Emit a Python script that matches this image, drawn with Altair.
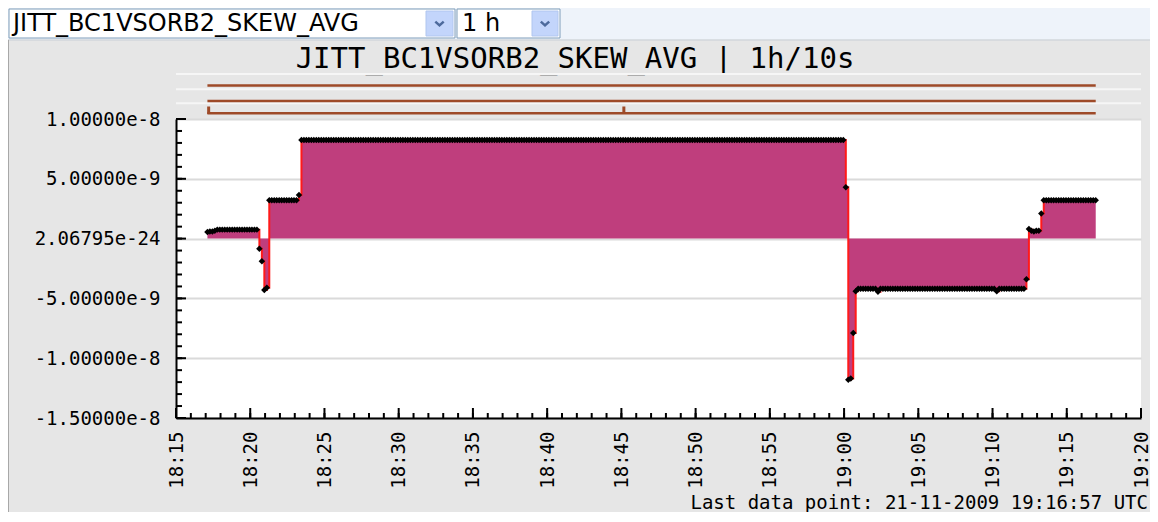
import altair as alt
import pandas as pd

# ---------------- data (units of 1e-9) ----------------
# one sample every 10 s, first 18:17:07 UTC, last 19:16:57 UTC
first_sample = "2009-11-21 18:17:07"
vals_start = [0.55, 0.60, 0.60, 0.65,
              0.75, 0.75, 0.75, 0.75, 0.75, 0.75, 0.75, 0.75, 0.75, 0.75,
              0.75, 0.75, 0.75, 0.75, 0.75, 0.75, 0.75]
vals_dip = [-0.85, -1.90, -4.30, -4.10,
            3.20, 3.20, 3.20, 3.20, 3.20, 3.20, 3.20, 3.20, 3.20, 3.20, 3.20, 3.20,
            3.65]
vals_high = [
    8.25, 8.25, 8.25, 8.25, 8.25, 8.25, 8.25, 8.25, 8.25, 8.25, 8.25, 8.25, 8.25, 8.25, 8.25, 8.25, 8.25, 8.25, 8.25, 8.25,
    8.25, 8.25, 8.25, 8.25, 8.25, 8.25, 8.25, 8.25, 8.25, 8.25, 8.25, 8.25, 8.25, 8.25, 8.25, 8.25, 8.25, 8.25, 8.25, 8.25,
    8.25, 8.25, 8.25, 8.25, 8.25, 8.25, 8.25, 8.25, 8.25, 8.25, 8.25, 8.25, 8.25, 8.25, 8.25, 8.25, 8.25, 8.25, 8.25, 8.25,
    8.25, 8.25, 8.25, 8.25, 8.25, 8.25, 8.25, 8.25, 8.25, 8.25, 8.25, 8.25, 8.25, 8.25, 8.25, 8.25, 8.25, 8.25, 8.25, 8.25,
    8.25, 8.25, 8.25, 8.25, 8.25, 8.25, 8.25, 8.25, 8.25, 8.25, 8.25, 8.25, 8.25, 8.25, 8.25, 8.25, 8.25, 8.25, 8.25, 8.25,
    8.25, 8.25, 8.25, 8.25, 8.25, 8.25, 8.25, 8.25, 8.25, 8.25, 8.25, 8.25, 8.25, 8.25, 8.25, 8.25, 8.25, 8.25, 8.25, 8.25,
    8.25, 8.25, 8.25, 8.25, 8.25, 8.25, 8.25, 8.25, 8.25, 8.25, 8.25, 8.25, 8.25, 8.25, 8.25, 8.25, 8.25, 8.25, 8.25, 8.25,
    8.25, 8.25, 8.25, 8.25, 8.25, 8.25, 8.25, 8.25, 8.25, 8.25, 8.25, 8.25, 8.25, 8.25, 8.25, 8.25, 8.25, 8.25, 8.25, 8.25,
    8.25, 8.25, 8.25, 8.25, 8.25, 8.25, 8.25, 8.25, 8.25, 8.25, 8.25, 8.25, 8.25, 8.25, 8.25, 8.25, 8.25, 8.25, 8.25, 8.25,
    8.25, 8.25, 8.25, 8.25, 8.25, 8.25, 8.25, 8.25, 8.25, 8.25, 8.25, 8.25, 8.25, 8.25, 8.25, 8.25, 8.25, 8.25, 8.25, 8.25,
    8.25, 8.25, 8.25, 8.25, 8.25, 8.25, 8.25, 8.25, 8.25, 8.25, 8.25, 8.25, 8.25, 8.25, 8.25, 8.25, 8.25, 8.25, 8.25, 8.25,
]
vals_crash = [4.30, -11.80, -11.70, -7.90, -4.40]
vals_low = [
    -4.20, -4.20, -4.20, -4.20, -4.20, -4.20, -4.20, -4.20, -4.45, -4.20, -4.20, -4.20, -4.20, -4.20, -4.20, -4.20, -4.20, -4.20, -4.20, -4.20,
    -4.20, -4.20, -4.20, -4.20, -4.20, -4.20, -4.20, -4.20, -4.20, -4.20, -4.20, -4.20, -4.20, -4.20, -4.20, -4.20, -4.20, -4.20, -4.20, -4.20,
    -4.20, -4.20, -4.20, -4.20, -4.20, -4.20, -4.20, -4.20, -4.20, -4.20, -4.20, -4.20, -4.20, -4.20, -4.20, -4.20, -4.40, -4.20, -4.20, -4.20,
    -4.20, -4.20, -4.20, -4.20, -4.20, -4.20, -4.20, -4.20,
]
vals_end = [-3.40, 0.80, 0.65, 0.60, 0.65, 0.65, 2.10,
            3.20, 3.20, 3.20, 3.20, 3.20, 3.20, 3.20, 3.20, 3.20, 3.20, 3.20,
            3.20, 3.20, 3.20, 3.20, 3.20, 3.20, 3.20, 3.20, 3.20, 3.20, 3.20]

values_e9 = vals_start + vals_dip + vals_high + vals_crash + vals_low + vals_end
assert len(values_e9) == 360, len(values_e9)

# status strip (three lanes above the plot) and its event marks
status_start = "2009-11-21 18:17:07"
status_end = "2009-11-21 19:16:57"
status_events = ["2009-11-21 18:17:12", "2009-11-21 18:45:10"]

# axes
x_domain = ["2009-11-21 18:15:00", "2009-11-21 19:20:00"]
x_major_labels = ["18:15", "18:20", "18:25", "18:30", "18:35", "18:40", "18:45",
                  "18:50", "18:55", "19:00", "19:05", "19:10", "19:15", "19:20"]
y_major = [1e-8, 5e-9, 0.0, -5e-9, -1e-8, -1.5e-8]
y_major_labels = ["1.00000e-8", "5.00000e-9", "2.06795e-24", "-5.00000e-9",
                  "-1.00000e-8", "-1.50000e-8"]

title_text = "JITT_BC1VSORB2_SKEW_AVG | 1h/10s"
footer_text = "Last data point: 21-11-2009 19:16:57 UTC"
select_signal = "JITT_BC1VSORB2_SKEW_AVG"
select_range = "1 h"

# ---------------- helpers ----------------
def ms(s):
    return int(pd.Timestamp(s, tz="UTC").value // 1_000_000)

times = pd.date_range(pd.Timestamp(first_sample, tz="UTC"), periods=len(values_e9), freq="10s")
df = pd.DataFrame({"t": times.asi8 // 1_000_000, "v": [x * 1e-9 for x in values_e9]})

d0, d1 = ms(x_domain[0]), ms(x_domain[1])
x_major = [d0 + k * 300_000 for k in range(len(x_major_labels))]
x_minor = [d0 + k * 60_000 for k in range(66)]
y_minor = [k * 1e-9 for k in range(-15, 11)]

W, H = 965, 299
MONO = "DejaVu Sans Mono"
FILL = "#bf3e7d"
BROWN = "#9e4a28"

xscale = alt.Scale(type="utc", domain=[d0, d1], nice=False)
yscale = alt.Scale(domain=[-1.5e-8, 1e-8], nice=False, zero=False)

xaxis = alt.Axis(values=x_major, format="%H:%M", labelAngle=-90, labelFont=MONO,
                 labelFontSize=19, labelColor="black", labelPadding=13, ticks=False,
                 tickSize=0, grid=False, domainColor="black", domainWidth=2,
                 labelFlush=False, labelOverlap=False, labelBound=False, title=None)
label_expr = " : ".join(
    f"abs(datum.value - ({v:.12f})) < 0.000000000001 ? '{lab}'"
    for v, lab in zip(y_major, y_major_labels)) + " : ''"
yaxis = alt.Axis(values=y_major, labelExpr=label_expr, labelFont=MONO, labelFontSize=19,
                 labelColor="black", labelPadding=16, ticks=False, tickSize=0,
                 grid=True, gridColor="#dadada", gridWidth=2, domainColor="black",
                 domainWidth=2, labelOverlap=False, labelFlush=False, labelBound=False,
                 title=None)

X = alt.X("t:T", scale=xscale, axis=xaxis)
Y = alt.Y("v:Q", scale=yscale, axis=yaxis)

one = pd.DataFrame({"k": [0]})

def box(x, x2, y, y2, fill, stroke, sw=1):
    return alt.Chart(one).mark_rect(fill=fill, stroke=stroke, strokeWidth=sw).encode(
        x=alt.value(x), x2=alt.value(x2), y=alt.value(y), y2=alt.value(y2))

def hline(x, x2, y, color, sw):
    return alt.Chart(one).mark_rule(color=color, strokeWidth=sw).encode(
        x=alt.value(x), x2=alt.value(x2), y=alt.value(y))

def label(text, x, y, size, font, align="left", weight="normal", color="black"):
    return alt.Chart(one).mark_text(align=align, baseline="alphabetic", font=font,
                                    fontSize=size, fontWeight=weight, color=color).encode(
        x=alt.value(x), y=alt.value(y), text=alt.value(text))

def chevron(x, y):
    return alt.Chart(one).mark_point(shape="M-1,-0.45L0,0.45L1,-0.45", filled=False,
                                     stroke="#4d6a9c", strokeWidth=2.5, size=70,
                                     opacity=1).encode(x=alt.value(x), y=alt.value(y))

# ---------------- page furniture (coordinates relative to the plot's corner) ----------------
top_band = box(-170, 980, -112, -79, "#eef3fa", "#eef3fa")
panel_top = hline(-170, 980, -79, "#c4c8cc", 1)
panel_left = alt.Chart(one).mark_rule(color="#a8a8a8", strokeWidth=1).encode(
    x=alt.value(-167.5), y=alt.value(-79), y2=alt.value(400))
sel1 = box(-167, 279, -110, -81, "white", "#7f9db9")
sel1_btn = box(250, 277, -108, -83, "#c3d5fb", "#b0c6ef")
sel2 = box(281, 384, -110, -81, "white", "#7f9db9")
sel2_btn = box(356, 382, -108, -83, "#c3d5fb", "#b0c6ef")
sel1_txt = label(select_signal, -163, -88, 24, "DejaVu Sans")
sel2_txt = label(select_range, 286, -88, 24, "DejaVu Sans")
title = label(title_text, 399, -51, 29, MONO, align="center")
footer = label(footer_text, 972, 390, 19, MONO, align="right")

strip_white = alt.layer(*[hline(0, W, yy, "#f6f6f6", 2) for yy in (-45, -29.7, -15.7)])

status_df = pd.DataFrame({"t": [ms(status_start)], "t2": [ms(status_end)]})
lanes = alt.layer(*[
    alt.Chart(status_df).mark_rule(color=BROWN, strokeWidth=2.5).encode(
        x=X, x2="t2:T", y=alt.value(yy))
    for yy in (-33.5, -18, -5.7)])
events_df = pd.DataFrame({"t": [ms(s) for s in status_events]})
events = alt.Chart(events_df).mark_rule(color=BROWN, strokeWidth=3).encode(
    x=X, y=alt.value(-12.5), y2=alt.value(-5))

# ---------------- plot ----------------
area = alt.Chart(df).mark_area(interpolate="step-after", color=FILL, opacity=1).encode(
    x=X, y=Y, y2=alt.datum(0))
line = alt.Chart(df).mark_line(interpolate="step-after", color="#ff1a1a", strokeWidth=2).encode(
    x=X, y=Y)
pts = alt.Chart(df).mark_point(shape="diamond", filled=True, color="black", size=42,
                               opacity=1).encode(x=X, y=Y)

xt_major = alt.Chart(pd.DataFrame({"t": x_major})).mark_rule(color="black", strokeWidth=2).encode(
    x=X, y=alt.value(H), y2=alt.value(H - 10))
xt_minor = alt.Chart(pd.DataFrame({"t": x_minor})).mark_rule(color="black", strokeWidth=2).encode(
    x=X, y=alt.value(H), y2=alt.value(H - 5))
yt_major = alt.Chart(pd.DataFrame({"v": y_major})).mark_rule(color="black", strokeWidth=2).encode(
    y=Y, x=alt.value(0), x2=alt.value(10))
yt_minor = alt.Chart(pd.DataFrame({"v": y_minor})).mark_rule(color="black", strokeWidth=2).encode(
    y=Y, x=alt.value(0), x2=alt.value(6))

chart = alt.layer(
    top_band, panel_top, panel_left, sel1, sel1_btn, sel2, sel2_btn,
    sel1_txt, sel2_txt, chevron(263.5, -95.5), chevron(369, -95.5),
    title, strip_white, lanes, events,
    area, line, pts, xt_minor, xt_major, yt_minor, yt_major, footer,
).properties(
    width=W, height=H,
    autosize=alt.AutoSizeParams(type="none"),
    padding={"left": 168, "top": 111, "right": 9, "bottom": 94},
    background="#e6e6e6",
).configure_view(fill="white", strokeWidth=0)

chart.save("out.html", embed_options={"renderer": "svg", "actions": False})
